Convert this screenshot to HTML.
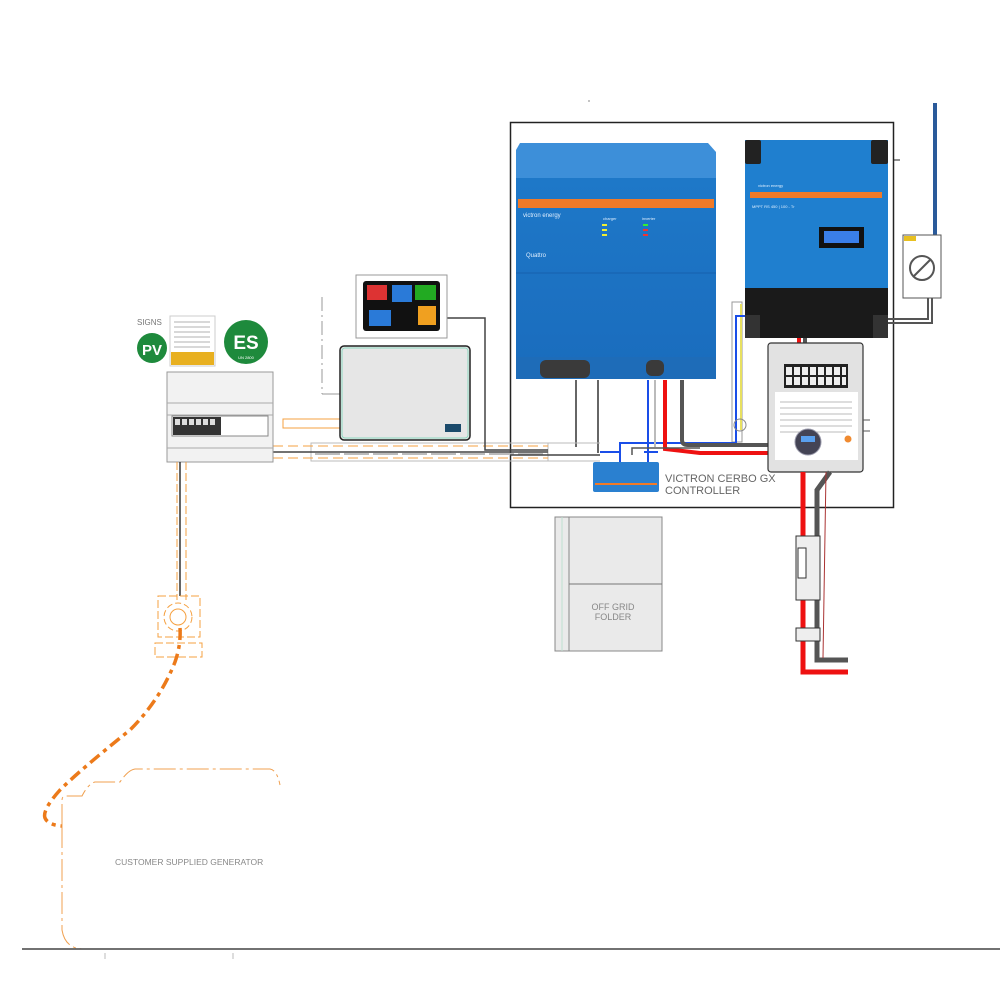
<!DOCTYPE html>
<html><head><meta charset="utf-8"><style>
html,body{margin:0;padding:0;background:#fff;}
svg{display:block;}
text{font-family:"Liberation Sans",sans-serif;}
</style></head><body>
<svg width="1000" height="1000" viewBox="0 0 1000 1000" xmlns="http://www.w3.org/2000/svg">
<defs>
<linearGradient id="qb" x1="0" y1="0" x2="0" y2="1"><stop offset="0" stop-color="#1e78c8"/><stop offset="1" stop-color="#1a6cbd"/></linearGradient>
</defs>
<rect width="1000" height="1000" fill="#fff"/>

<!-- main enclosure -->
<rect x="510.5" y="122.5" width="383" height="385" fill="none" stroke="#222" stroke-width="1.5"/>
<line x1="893" y1="160" x2="900" y2="160" stroke="#222"/>
<line x1="588" y1="101" x2="590" y2="101" stroke="#888"/>

<!-- Quattro -->
<path d="M520 143 L708 143 L716 152 L716 178 L516 178 L516 150 Z" fill="#3d8fd9"/>
<rect x="516" y="178" width="200" height="200" fill="url(#qb)"/>
<rect x="518" y="199" width="196" height="9" fill="#f07a28"/>
<text x="523" y="217" font-size="6" fill="#dfefff">victron energy</text>
<text x="526" y="257" font-size="6" fill="#dfefff">Quattro</text>
<text x="603" y="220" font-size="4" fill="#dfefff">charger</text>
<text x="642" y="220" font-size="4" fill="#dfefff">inverter</text>
<rect x="602" y="224" width="5" height="2" fill="#ee3"/><rect x="602" y="229" width="5" height="2" fill="#ee3"/><rect x="602" y="234" width="5" height="2" fill="#ee3"/>
<rect x="643" y="224" width="5" height="2" fill="#3e3"/><rect x="643" y="229" width="5" height="2" fill="#e33"/><rect x="643" y="234" width="5" height="2" fill="#e33"/>
<line x1="516" y1="273" x2="716" y2="273" stroke="#1660ad"/>
<rect x="516" y="357" width="200" height="22" fill="#1e6cb8"/>
<rect x="540" y="360" width="50" height="18" fill="#3a3a3a" rx="6"/><rect x="646" y="360" width="18" height="16" fill="#3a3a3a" rx="6"/>

<!-- AC isolator right -->
<line x1="935" y1="103" x2="935" y2="236" stroke="#2a5a9a" stroke-width="4"/>
<rect x="903" y="235" width="38" height="63" fill="#fff" stroke="#555"/>
<rect x="904" y="236" width="12" height="5" fill="#e8c020"/>
<circle cx="922" cy="268" r="12" fill="none" stroke="#555" stroke-width="2"/>
<line x1="914" y1="276" x2="930" y2="260" stroke="#555" stroke-width="2"/>
<path d="M888 323 L932 323 L932 298 M888 319 L928 319 L928 298" fill="none" stroke="#555" stroke-width="2"/>

<!-- MPPT -->
<rect x="745" y="140" width="143" height="150" fill="#1f7fcf"/>
<rect x="745" y="140" width="16" height="24" fill="#222" rx="2"/>
<rect x="871" y="140" width="17" height="24" fill="#222" rx="2"/>
<rect x="750" y="192" width="132" height="6" fill="#f07a28"/>
<text x="758" y="187" font-size="4" fill="#dfefff">victron energy</text>
<text x="752" y="208" font-size="4" fill="#dfefff">MPPT RS 450 | 100 - Tr</text>
<rect x="819" y="227" width="45" height="21" fill="#111"/>
<rect x="824" y="231" width="35" height="12" fill="#3a7ee8"/>
<rect x="745" y="288" width="143" height="50" fill="#1a1a1a"/>
<rect x="745" y="315" width="15" height="23" fill="#333"/><rect x="873" y="315" width="15" height="23" fill="#333"/>

<!-- yellow/blue wires -->
<rect x="732" y="302" width="10" height="140" fill="none" stroke="#999"/>
<line x1="741" y1="304" x2="741" y2="430" stroke="#e8e060" stroke-width="2"/>
<path d="M745 316 L736 316 L736 443 L620 443 L620 462" fill="none" stroke="#1a4ee8" stroke-width="2"/>
<circle cx="740" cy="425" r="6" fill="none" stroke="#888"/>

<!-- wires from Quattro -->
<path d="M576 380 L576 447 M598 380 L598 453" stroke="#333" stroke-width="1.5"/>
<path d="M648 380 L648 462" stroke="#1a4ee8" stroke-width="2"/>
<path d="M655 380 L655 447" stroke="#bbb" stroke-width="2"/>
<path d="M665 380 L665 449 L700 453 L768 453" fill="none" stroke="#e11" stroke-width="4"/>
<path d="M682 380 L682 440 Q682 445 688 445 L768 445" fill="none" stroke="#555" stroke-width="4"/>
<path d="M632 455 L632 448 L700 448" fill="none" stroke="#555" stroke-width="1.5"/>

<!-- MPPT to DC box -->
<rect x="797" y="338" width="4" height="8" fill="#e11"/><rect x="803" y="338" width="4" height="8" fill="#555"/>

<!-- DC box -->
<rect x="768" y="343" width="95" height="129" rx="3" fill="#e2e2e2" stroke="#333" stroke-width="1.2"/>
<rect x="784" y="364" width="64" height="24" fill="#222"/>
<g fill="#eee"><rect x="786" y="367" width="6" height="8"/><rect x="794" y="367" width="6" height="8"/><rect x="802" y="367" width="6" height="8"/><rect x="810" y="367" width="6" height="8"/><rect x="818" y="367" width="6" height="8"/><rect x="826" y="367" width="6" height="8"/><rect x="834" y="367" width="6" height="8"/><rect x="842" y="367" width="4" height="8"/>
<rect x="786" y="377" width="6" height="8"/><rect x="794" y="377" width="6" height="8"/><rect x="802" y="377" width="6" height="8"/><rect x="810" y="377" width="6" height="8"/><rect x="818" y="377" width="6" height="8"/><rect x="826" y="377" width="6" height="8"/><rect x="834" y="377" width="6" height="8"/><rect x="842" y="377" width="4" height="8"/></g>
<rect x="775" y="392" width="83" height="68" fill="#fff"/>
<g stroke="#bbb" stroke-width="1"><line x1="780" y1="402" x2="852" y2="402"/><line x1="780" y1="408" x2="852" y2="408"/><line x1="780" y1="414" x2="852" y2="414"/><line x1="780" y1="420" x2="852" y2="420"/><line x1="780" y1="426" x2="852" y2="426"/><line x1="780" y1="432" x2="846" y2="432"/></g>
<circle cx="808" cy="442" r="13" fill="#445" stroke="#99a"/>
<rect x="801" y="436" width="14" height="6" fill="#5aa0ee"/>
<circle cx="848" cy="439" r="3.5" fill="#f08a30"/>
<line x1="863" y1="420" x2="870" y2="420" stroke="#555"/><line x1="863" y1="431" x2="870" y2="431" stroke="#555"/>

<!-- DC cables down -->
<path d="M803 472 L803 672 L848 672" fill="none" stroke="#e11" stroke-width="5"/>
<path d="M830 472 L817 490 L817 660 L848 660" fill="none" stroke="#555" stroke-width="5"/>
<line x1="826" y1="472" x2="823" y2="658" stroke="#a33" stroke-width="1"/>
<rect x="796" y="536" width="24" height="64" fill="#eee" stroke="#333"/>
<rect x="798" y="548" width="8" height="30" fill="#fff" stroke="#333"/>
<rect x="796" y="628" width="24" height="13" fill="#eee" stroke="#333"/>

<!-- Cerbo -->
<path d="M600 452 L620 452 L620 462 M644 452 L658 452" fill="none" stroke="#1a4ee8" stroke-width="2"/>
<rect x="593" y="462" width="66" height="30" rx="2" fill="#2a80d0"/>
<rect x="595" y="483" width="62" height="2" fill="#f07a28"/>
<text x="665" y="482" font-size="11" fill="#666">VICTRON CERBO GX</text>
<text x="665" y="494" font-size="11" fill="#666">CONTROLLER</text>

<!-- folder -->
<rect x="555" y="517" width="107" height="134" fill="#eaeaea" stroke="#888"/>
<line x1="569" y1="517" x2="569" y2="651" stroke="#888"/>
<line x1="562" y1="517" x2="562" y2="651" stroke="#bde0d0"/>
<line x1="569" y1="584" x2="662" y2="584" stroke="#777"/>
<text x="613" y="610" font-size="9" fill="#888" text-anchor="middle">OFF GRID</text>
<text x="613" y="620" font-size="9" fill="#888" text-anchor="middle">FOLDER</text>

<!-- conduit horizontal -->
<rect x="311" y="443" width="237" height="18" fill="none" stroke="#bbb"/>
<line x1="273" y1="446" x2="548" y2="446" stroke="#f5a040" stroke-dasharray="10 5"/>
<line x1="273" y1="458" x2="548" y2="458" stroke="#f5a040" stroke-dasharray="10 5"/>
<line x1="273" y1="452" x2="548" y2="452" stroke="#444" stroke-width="1.5"/>
<line x1="315" y1="454" x2="548" y2="454" stroke="#bbb" stroke-width="2" stroke-dasharray="25 4"/>
<line x1="548" y1="443" x2="600" y2="443" stroke="#bbb"/><line x1="548" y1="461" x2="600" y2="461" stroke="#bbb"/>
<path d="M447 318 L485 318 L485 450 L548 450" fill="none" stroke="#444" stroke-width="1.5"/>
<line x1="510" y1="455" x2="600" y2="455" stroke="#444" stroke-width="1.5"/>
<rect x="283" y="419" width="60" height="9" fill="none" stroke="#f5a040"/>
<line x1="322" y1="297" x2="322" y2="394" stroke="#999" stroke-dasharray="14 4 2 4"/>
<line x1="322" y1="394" x2="340" y2="394" stroke="#999"/>

<!-- touchscreen -->
<rect x="356" y="275" width="91" height="63" fill="#fff" stroke="#999"/>
<rect x="363" y="281" width="77" height="50" rx="3" fill="#111"/>
<rect x="367" y="285" width="20" height="15" fill="#d33"/>
<rect x="392" y="285" width="20" height="17" fill="#2a7ad8"/>
<rect x="415" y="285" width="21" height="15" fill="#2a2"/>
<rect x="369" y="310" width="22" height="16" fill="#2a7ad8"/>
<rect x="418" y="306" width="18" height="19" fill="#f0a020"/>

<!-- gray enclosure -->
<rect x="340" y="346" width="130" height="94" rx="4" fill="#e6e6e6" stroke="#222" stroke-width="1.5"/>
<rect x="342" y="348" width="126" height="90" rx="3" fill="none" stroke="#8cd8c0" stroke-width="1"/>
<rect x="445" y="424" width="16" height="8" fill="#1b4a6b"/>

<!-- signs -->
<text x="137" y="325" font-size="8" fill="#777">SIGNS</text>
<circle cx="152" cy="348" r="15" fill="#1e8a3c"/>
<text x="152" y="355" font-size="15" font-weight="bold" fill="#fff" text-anchor="middle">PV</text>
<rect x="170" y="316" width="45" height="50" fill="#fff" stroke="#ccc"/>
<g stroke="#999" stroke-width="0.7"><line x1="174" y1="322" x2="210" y2="322"/><line x1="174" y1="327" x2="210" y2="327"/><line x1="174" y1="332" x2="210" y2="332"/><line x1="174" y1="337" x2="210" y2="337"/><line x1="174" y1="342" x2="210" y2="342"/><line x1="174" y1="347" x2="210" y2="347"/></g>
<rect x="171" y="352" width="43" height="13" fill="#e8b020"/>
<circle cx="246" cy="342" r="22" fill="#1e8a3c"/>
<text x="246" y="349" font-size="19" font-weight="bold" fill="#fff" text-anchor="middle">ES</text>
<text x="246" y="359" font-size="4" fill="#fff" text-anchor="middle">UN 2800</text>

<!-- switchboard -->
<rect x="167" y="372" width="106" height="90" fill="#f2f2f2" stroke="#999"/>
<line x1="167" y1="403" x2="273" y2="403" stroke="#aaa"/>
<line x1="167" y1="415" x2="273" y2="415" stroke="#aaa"/>
<line x1="167" y1="448" x2="273" y2="448" stroke="#aaa"/>
<rect x="172" y="416" width="96" height="20" fill="#fff" stroke="#888"/>
<rect x="173" y="417" width="48" height="18" fill="#333"/>
<g fill="#ddd"><rect x="175" y="419" width="5" height="6"/><rect x="182" y="419" width="5" height="6"/><rect x="189" y="419" width="5" height="6"/><rect x="196" y="419" width="5" height="6"/><rect x="203" y="419" width="5" height="6"/><rect x="210" y="419" width="5" height="6"/></g>

<!-- vertical conduit & outlet -->
<line x1="177" y1="462" x2="177" y2="600" stroke="#f5a040" stroke-dasharray="8 3"/>
<line x1="186" y1="462" x2="186" y2="600" stroke="#f5a040" stroke-dasharray="8 3"/>
<line x1="180" y1="462" x2="180" y2="596" stroke="#333" stroke-width="1.5"/>
<rect x="158" y="596" width="42" height="41" fill="none" stroke="#f5a040" stroke-dasharray="8 3"/>
<circle cx="178" cy="617" r="14" fill="none" stroke="#f5a040" stroke-dasharray="6 3"/>
<circle cx="178" cy="617" r="8" fill="none" stroke="#f5a040"/>
<rect x="155" y="643" width="47" height="14" fill="none" stroke="#f5a040" stroke-dasharray="8 3"/>

<!-- generator cable -->
<path d="M180 628 Q181 645 175 662 Q160 700 130 730 Q80 770 60 790 Q42 810 45 818 Q48 825 62 826" fill="none" stroke="#ec7a1a" stroke-width="3.5" stroke-dasharray="12 5 4 5"/>
<!-- generator outline -->
<path d="M62 826 L62 800 Q62 796 66 796 L82 796 Q88 784 95 782 L120 782 Q128 770 135 769 L270 769 Q277 770 280 785 M62 826 L62 930 Q65 948 82 949 L270 949" fill="none" stroke="#f0a050" stroke-width="1" stroke-dasharray="22 4 3 4"/>
<text x="115" y="865" font-size="8.5" fill="#888">CUSTOMER SUPPLIED  GENERATOR</text>

<!-- ground line -->
<line x1="22" y1="949" x2="1000" y2="949" stroke="#444" stroke-width="1.5"/>
<line x1="105" y1="953" x2="105" y2="959" stroke="#bbb"/>
<line x1="233" y1="953" x2="233" y2="959" stroke="#bbb"/>
</svg>
</body></html>
